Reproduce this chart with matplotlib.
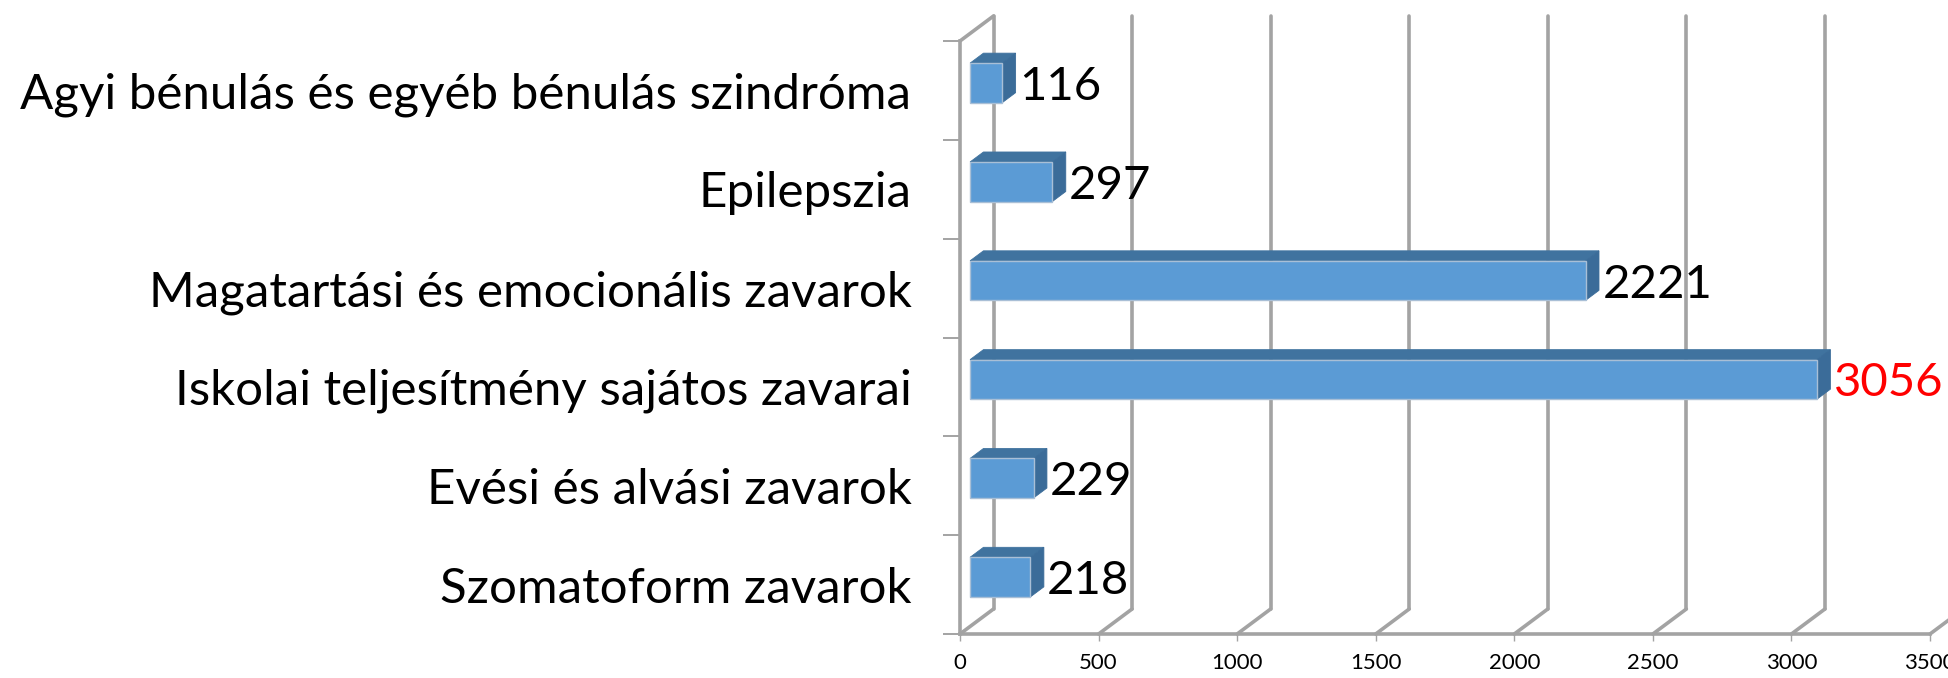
# plot.py - pseudo 3D horizontal bars, Excel style
import matplotlib
matplotlib.use("Agg")
import matplotlib.pyplot as plt
from matplotlib.patches import Polygon

categories = [
    "Agyi bénulás és egyéb bénulás szindróma",
    "Epilepszia",
    "Magatartási és emocionális zavarok",
    "Iskolai teljesítmény sajátos zavarai",
    "Evési és alvási zavarok",
    "Szomatoform zavarok",
]
values = [116, 297, 2221, 3056, 229, 218]
label_colors = ["black", "black", "black", "red", "black", "black"]
x_ticks = [0, 500, 1000, 1500, 2000, 2500, 3000, 3500]

GRID = "#A3A3A3"
FRONT = "#5B9BD5"
SIDE = "#3B6C99"
TOP = "#40739F"

plt.rcParams["font.family"] = ["Lato", "DejaVu Sans"]

fig = plt.figure(figsize=(19.48, 6.78), dpi=100)
ax = fig.add_axes([960 / 1948, 1 - 634 / 678, 970 / 1948, 593 / 678])
ax.set_xlim(0, 3500)
ax.set_ylim(6, 0)

# depth of the fake 3D box, in data units (33.5 px right, 25 px up)
depth_x = 33.5 * 3500 / 970
depth_y = 25 * 6 / 593


def project(val, cat, d):
    return val + d * depth_x, cat - d * depth_y


# walls and floor lines
for t in x_ticks:
    ax.plot(*zip(project(t, 6, 0), project(t, 6, 1)), color=GRID, lw=2.6, clip_on=False,
            solid_capstyle="round", zorder=1)
    if t <= 3000:
        ax.plot(*zip(project(t, 6, 1), project(t, 0, 1)), color=GRID, lw=2.6, clip_on=False,
                solid_capstyle="round", zorder=1)
ax.plot(*zip(project(0, 0, 0), project(0, 0, 1)), color=GRID, lw=2.6, clip_on=False,
        solid_capstyle="round", zorder=1)

# bars
for i, v in enumerate(values):
    top, bottom = i + 0.3, i + 0.7
    front = [project(0, top, 0.3), project(v, top, 0.3), project(v, bottom, 0.3), project(0, bottom, 0.3)]
    upper = [project(0, top, 0.3), project(v, top, 0.3), project(v, top, 0.7), project(0, top, 0.7)]
    side = [project(v, top, 0.3), project(v, top, 0.7), project(v, bottom, 0.7), project(v, bottom, 0.3)]
    ax.add_patch(Polygon(upper, facecolor=TOP, edgecolor=TOP, lw=0.6, clip_on=False, zorder=3))
    ax.add_patch(Polygon(side, facecolor=SIDE, edgecolor=SIDE, lw=0.6, clip_on=False, zorder=3))
    ax.add_patch(Polygon(front, facecolor=FRONT, edgecolor="#A9BFD6", lw=1.0, clip_on=False, zorder=4))
    ax.annotate(str(v), xy=project(v, i + 0.5, 0.3), xytext=(12, 0), textcoords="offset points",
                ha="left", va="center_baseline", fontsize=34, color=label_colors[i],
                annotation_clip=False, zorder=5)

for s in ["top", "right"]:
    ax.spines[s].set_visible(False)
for s in ["left", "bottom"]:
    ax.spines[s].set_color(GRID)
    ax.spines[s].set_linewidth(2.6)

ax.set_xticks(x_ticks)
ax.set_xticklabels([str(t) for t in x_ticks])
ax.tick_params(axis="x", length=5, width=1, color=GRID, labelsize=16, pad=9)
ax.set_yticks(range(7))
ax.set_yticklabels([])
ax.set_yticks([i + 0.5 for i in range(6)], labels=categories, minor=True)
ax.tick_params(axis="y", which="major", length=12, width=1.4, color=GRID)
ax.tick_params(axis="y", which="minor", length=0, labelsize=35.5, pad=35)

fig.savefig("out.png", dpi=100)
